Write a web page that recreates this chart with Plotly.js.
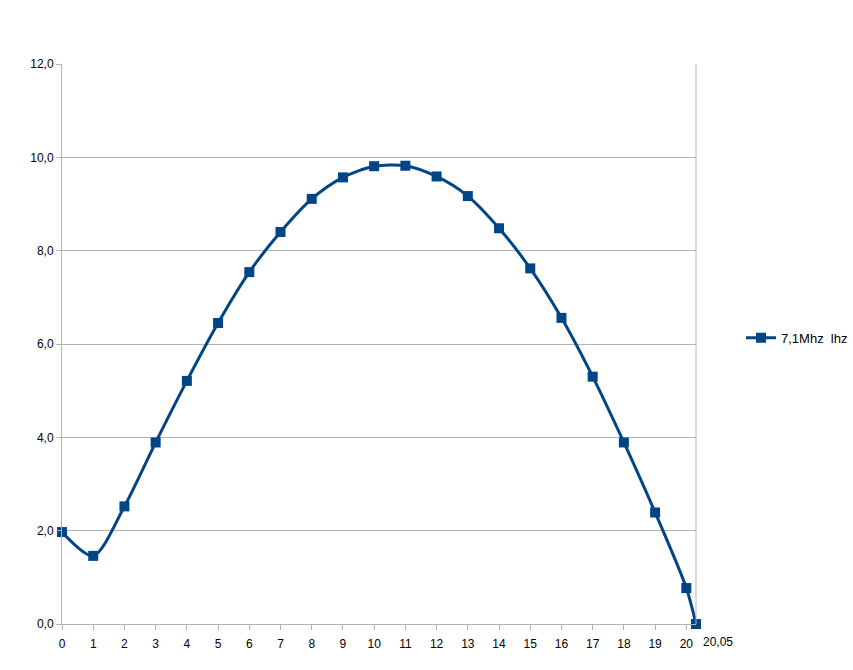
<!DOCTYPE html>
<html>
<head>
<meta charset="utf-8">
<script src="https://cdn.plot.ly/plotly-3.0.1.min.js"></script>
<style>html,body{margin:0;padding:0;background:#fff;}#chart{width:853px;height:670px;}</style>
</head>
<body>
<div id="chart"></div>
<script>
// Data
const xValues = [0, 1, 2, 3, 4, 5, 6, 7, 8, 9, 10, 11, 12, 13, 14, 15, 16, 17, 18, 19, 20, 20.31];
const yValues = [1.97, 1.46, 2.52, 3.89, 5.21, 6.45, 7.54, 8.40, 9.11, 9.57, 9.81, 9.82, 9.59, 9.17, 8.48, 7.62, 6.56, 5.30, 3.89, 2.39, 0.77, 0.0];
const seriesName = "7,1Mhz  lhz";
const xTickVals = [0, 1, 2, 3, 4, 5, 6, 7, 8, 9, 10, 11, 12, 13, 14, 15, 16, 17, 18, 19, 20];
const xTickText = ["0","1","2","3","4","5","6","7","8","9","10","11","12","13","14","15","16","17","18","19","20"];
const lastCategoryLabel = "20,05";
const yTickVals = [0, 2, 4, 6, 8, 10, 12];

const fontFamily = "Liberation Sans, Arial, sans-serif";
const gridColor = "#b3b3b3";

const trace = {
  x: xValues,
  y: yValues,
  name: seriesName,
  type: "scatter",
  mode: "lines+markers",
  line: {color: "#004586", width: 3, shape: "spline", smoothing: 0.8},
  marker: {symbol: "square", size: 10, color: "#004586"},
  cliponaxis: false
};

const layout = {
  width: 853,
  height: 670,
  margin: {l: 62, r: 157.3, t: 64, b: 46, autoexpand: false},
  paper_bgcolor: "#ffffff",
  plot_bgcolor: "#ffffff",
  separators: ", ",
  font: {family: fontFamily, size: 12, color: "#000000"},
  showlegend: true,
  legend: {
    x: 1.071, y: 0.511, xanchor: "left", yanchor: "middle",
    font: {family: fontFamily, size: 13, color: "#000"},
    bgcolor: "rgba(0,0,0,0)"
  },
  xaxis: {
    range: [0, 20.31],
    tickmode: "array",
    tickvals: xTickVals,
    ticktext: xTickText,
    showgrid: false,
    zeroline: false,
    showline: true,
    linecolor: gridColor,
    linewidth: 1,
    mirror: false,
    ticks: "outside",
    ticklen: 5,
    tickcolor: gridColor,
    ticklabelstandoff: 4,
    tickfont: {family: fontFamily, size: 12, color: "#000"}
  },
  yaxis: {
    range: [0, 12],
    tickmode: "array",
    tickvals: yTickVals,
    tickformat: ".1f",
    showgrid: true,
    gridcolor: gridColor,
    gridwidth: 1,
    zeroline: false,
    showline: true,
    linecolor: gridColor,
    linewidth: 1,
    ticks: "outside",
    ticklen: 5,
    tickcolor: gridColor,
    tickfont: {family: fontFamily, size: 12, color: "#000"}
  },
  shapes: [
    {type: "line", xref: "paper", yref: "paper", x0: 1, x1: 1, y0: 0, y1: 1,
     line: {color: gridColor, width: 1}}
  ],
  annotations: [
    {text: lastCategoryLabel, xref: "paper", yref: "paper", x: 21 / 20.31, y: 0,
     xanchor: "center", yanchor: "top", yshift: -9, showarrow: false,
     font: {family: fontFamily, size: 12, color: "#000"}}
  ]
};

Plotly.newPlot("chart", [trace], layout, {displayModeBar: false, staticPlot: true});
</script>
</body>
</html>
